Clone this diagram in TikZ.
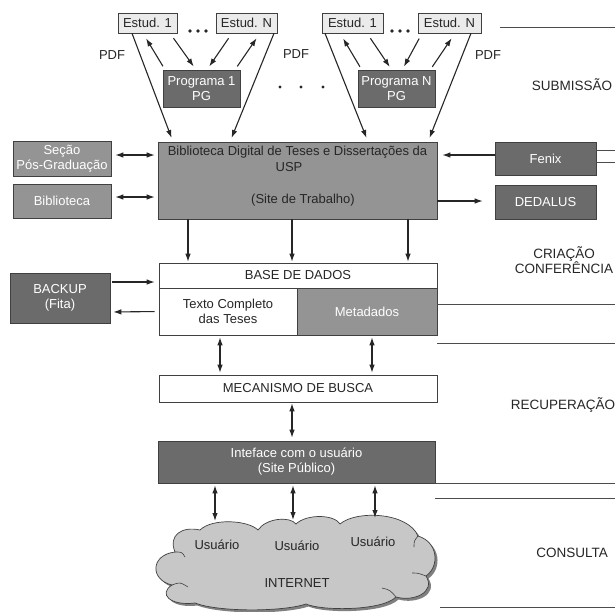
\documentclass[tikz,border=0pt]{standalone}
\usepackage{fontspec}
\setmainfont{Liberation Sans}
\usetikzlibrary{arrows.meta}
\begin{document}
\begin{tikzpicture}[x=1pt,y=-1pt,
  every node/.style={font=\fontsize{13}{15}\selectfont, inner sep=0pt},
  box/.style={draw=black!75, line width=0.6pt, rectangle, align=center},
  light/.style={box, fill=black!8, text=black!85, minimum height=20pt},
  dark/.style={box, fill=black!58, text=white},
  mid/.style={box, fill=black!42, text=white},
  wbox/.style={box, fill=white, text=black!85},
  lab/.style={text=black!85, font=\fontsize{13.5}{15.5}\selectfont, align=center},
  arr/.style={-{Latex[length=8pt,width=5.5pt]}, line width=1.1pt, draw=black!85},
  dbl/.style={{Latex[length=8pt,width=5.5pt]}-{Latex[length=8pt,width=5.5pt]}, line width=1.1pt, draw=black!85},
  sep/.style={line width=0.8pt, draw=black!70},
  dotb/.style={fill=black!85, draw=none}
]
\useasboundingbox (0,0) rectangle (615,611);

% ---- top: students and programs
\node[light, minimum width=59pt] (e1L) at (147.5,23) {Estud. 1};
\node[light, minimum width=61pt] (eNL) at (246.5,23) {Estud. N};
\node[light, minimum width=61pt] (e1R) at (352.5,23) {Estud. 1};
\node[light, minimum width=63pt] (eNR) at (449.5,23) {Estud. N};
\node[dark, minimum width=77pt, minimum height=37pt] (p1) at (201.5,88.5) {Programa 1\\PG};
\node[dark, minimum width=77pt, minimum height=37pt] (pN) at (396.5,89) {Programa N\\PG};

\foreach \x in {190,198,206,392,400,408} \fill[dotb] (\x,31) circle (1.8);
\foreach \x in {280,301,323} \fill[dotb] (\x,87) circle (1.6);

\node[text=black!85] (pdf1) at (112,55) {PDF};
\node[text=black!85] (pdf2) at (296,54) {PDF};
\node[text=black!85] (pdf3) at (488,55) {PDF};

% ---- work site
\node[mid, minimum width=279pt, minimum height=77pt] (bdt) at (297.5,180.5) {};
\node[text=black!85] (bdt1) at (297.5,152) {Biblioteca Digital de Teses e Dissertações da};
\node[text=black!85] (bdt2) at (289,167) {USP};
\node[text=black!85] (bdt3) at (303,200) {(Site de Trabalho)};

\node[mid, minimum width=98pt, minimum height=35pt] (secao) at (62,158.5) {Seção\\Pós-Graduação};
\node[mid, minimum width=98pt, minimum height=34pt] (biblio) at (62,201) {Biblioteca};
\node[dark, minimum width=101pt, minimum height=33pt] (fenix) at (545.5,158.5) {Fenix};
\node[dark, minimum width=101pt, minimum height=34pt] (dedalus) at (545.5,202) {DEDALUS};

% ---- database
\node[wbox, minimum width=278pt, minimum height=25pt] (base) at (298,275.5) {BASE DE DADOS};
\node[wbox, minimum width=138pt, minimum height=47pt] (texto) at (228,311.5) {Texto Completo\\das Teses};
\node[mid, minimum width=140pt, minimum height=47pt] (meta) at (367,311.5) {Metadados};
\node[dark, minimum width=100pt, minimum height=50pt] (backup) at (60,298) {BACKUP\\(Fita)};

\node[wbox, minimum width=278pt, minimum height=27pt] (mec) at (298,388.5) {MECANISMO DE BUSCA};
\node[dark, minimum width=277pt, minimum height=42pt] (iface) at (296.5,462) {Inteface com o usuário\\(Site Público)};

% ---- cloud
\fill[black!50, shift={(2.5,2.5)}]
  (195,603) .. controls (170,606) and (158,594) .. (172,585)
  .. controls (150,580) and (150,555) .. (175,552)
  .. controls (168,535) and (182,526) .. (200,530)
  .. controls (212,518) and (248,520) .. (258,530)
  .. controls (266,518) and (290,516) .. (296,524)
  .. controls (306,514) and (334,514) .. (340,524)
  .. controls (356,510) and (408,512) .. (418,536)
  .. controls (438,542) and (440,566) .. (426,576)
  .. controls (436,592) and (414,602) .. (396,597)
  .. controls (382,611) and (322,611) .. (306,604)
  .. controls (282,612) and (218,612) .. (195,603) -- cycle;
\filldraw[fill=black!22, draw=black!75, line width=0.7pt]
  (195,603) .. controls (170,606) and (158,594) .. (172,585)
  .. controls (150,580) and (150,555) .. (175,552)
  .. controls (168,535) and (182,526) .. (200,530)
  .. controls (212,518) and (248,520) .. (258,530)
  .. controls (266,518) and (290,516) .. (296,524)
  .. controls (306,514) and (334,514) .. (340,524)
  .. controls (356,510) and (408,512) .. (418,536)
  .. controls (438,542) and (440,566) .. (426,576)
  .. controls (436,592) and (414,602) .. (396,597)
  .. controls (382,611) and (322,611) .. (306,604)
  .. controls (282,612) and (218,612) .. (195,603) -- cycle;
\draw[black!75, line width=0.6pt] (172,585) .. controls (180,582) .. (188,587);
\draw[black!75, line width=0.6pt] (175,552) .. controls (182,552) .. (185,557);
\draw[black!75, line width=0.6pt] (426,576) .. controls (418,573) .. (412,573);
\draw[black!75, line width=0.6pt] (418,536) .. controls (414,541) .. (414,547);
\draw[black!75, line width=0.6pt] (396,597) .. controls (390,590) .. (382,588);
\node[text=black!85] (u1) at (217,545) {Usuário};
\node[text=black!85] (u2) at (297,546) {Usuário};
\node[text=black!85] (u3) at (373,542) {Usuário};
\node[text=black!85] (inet) at (297,583) {INTERNET};
\coordinate (c1) at (215,521);
\coordinate (c2) at (293,520);
\coordinate (c3) at (375,518);

% ---- section labels and separators
\node[lab] (lsub) at (572,85) {SUBMISSÃO};
\node[lab] (lcri) at (564,260) {CRIAÇÃO\\CONFERÊNCIA};
\node[lab] (lrec) at (563,405) {RECUPERAÇÃO};
\node[lab] (lcon) at (572,553) {CONSULTA};

\coordinate (s0a) at (500,27);  \coordinate (s0b) at (615,27);
\draw[sep] (s0a) -- (s0b);
\draw[sep] ([yshift=8.5pt]fenix.east) -- ++(19,0);
\draw[sep] ([yshift=-3.5pt]fenix.east) -- ++(19,0);
\draw[sep] ([yshift=7.5pt]meta.east) -- ++(178,0);
\coordinate (s3a) at (437,343); \coordinate (s3b) at (615,343);
\draw[sep] (s3a) -- (s3b);
\draw[sep] (iface.south east) -- ++(180,0);
\coordinate (s5a) at (435,498); \coordinate (s5b) at (615,498);
\draw[sep] (s5a) -- (s5b);
\coordinate (s6a) at (440,607); \coordinate (s6b) at (615,607);
\draw[sep] (s6a) -- (s6b);

% ---- connectors: top
\draw[arr, shorten >=4pt] ([xshift=-15.5pt]e1L.south) -- ([xshift=-124.5pt]bdt.north);
\draw[arr, shorten >=4pt] ([xshift=27.5pt]eNL.south) -- ([xshift=-67.5pt]bdt.north);
\draw[arr, shorten >=4pt] ([xshift=-27.5pt]e1R.south) -- ([xshift=70.5pt]bdt.north);
\draw[arr, shorten >=4pt] ([xshift=21.5pt]eNR.south) -- ([xshift=130.5pt]bdt.north);

\draw[arr, shorten <=4pt, shorten >=6pt] ([xshift=-36.5pt]p1.north) -- ([xshift=-4.5pt]e1L.south);
\draw[arr, shorten <=6pt, shorten >=4pt] ([xshift=22.5pt]e1L.south) -- ([xshift=-5.5pt]p1.north);
\draw[arr, shorten <=6pt, shorten >=4pt] ([xshift=-14.5pt]eNL.south) -- ([xshift=5.5pt]p1.north);
\draw[arr, shorten <=4pt, shorten >=6pt] ([xshift=33.5pt]p1.north) -- ([xshift=13.5pt]eNL.south);

\draw[arr, shorten <=4pt, shorten >=6pt] ([xshift=-34.5pt]pN.north) -- ([xshift=-12.5pt]e1R.south);
\draw[arr, shorten <=6pt, shorten >=4pt] ([xshift=14.5pt]e1R.south) -- ([xshift=-4.5pt]pN.north);
\draw[arr, shorten <=6pt, shorten >=4pt] ([xshift=-27.5pt]eNR.south) -- ([xshift=5.5pt]pN.north);
\draw[arr, shorten <=4pt, shorten >=6pt] ([xshift=33.5pt]pN.north) -- ([xshift=5.5pt]eNR.south);

% ---- connectors: work site
\draw[dbl, shorten <=4pt, shorten >=3pt] ([yshift=3.5pt]secao.east) -- ([yshift=25.5pt]bdt.west);
\draw[dbl, shorten <=4pt, shorten >=3pt] ([yshift=4pt]biblio.east) -- ([yshift=-16.5pt]bdt.west);
\draw[arr, shorten >=5pt] ([yshift=3.5pt]fenix.west) -- ([yshift=25.5pt]bdt.east);
\draw[arr, shorten >=12pt] ([yshift=-20.5pt]bdt.east) -- ([yshift=1pt]dedalus.west);

\draw[arr, shorten >=1pt] ([xshift=-109.5pt]bdt.south) -- ([xshift=-110pt]base.north);
\draw[arr, shorten >=1pt] ([xshift=-5.5pt]bdt.south) -- ([xshift=-6pt]base.north);
\draw[arr, shorten >=1pt] ([xshift=110.5pt]bdt.south) -- ([xshift=110pt]base.north);

% ---- connectors: database
\draw[arr, shorten <=2pt, shorten >=4pt] ([yshift=16pt]backup.east) -- ([yshift=-6.5pt]base.west);
\draw[arr, shorten <=4pt, shorten >=3pt] (texto.west) -- ([yshift=-14pt]backup.east);
\draw[dbl, shorten <=2pt, shorten >=2pt] ([xshift=-8pt]texto.south) -- ([xshift=-78pt]mec.north);
\draw[dbl, shorten <=2pt, shorten >=2pt] ([xshift=5pt]meta.south) -- ([xshift=74pt]mec.north);
\draw[dbl, shorten <=1pt, shorten >=3pt] ([xshift=-6pt]mec.south) -- ([xshift=-4.5pt]iface.north);

% ---- connectors: users
\draw[dbl, shorten <=2pt] ([xshift=-81.5pt]iface.south) -- (c1);
\draw[dbl, shorten <=2pt] ([xshift=-3.5pt]iface.south) -- (c2);
\draw[dbl, shorten <=2pt] ([xshift=78.5pt]iface.south) -- (c3);
\end{tikzpicture}
\end{document}
